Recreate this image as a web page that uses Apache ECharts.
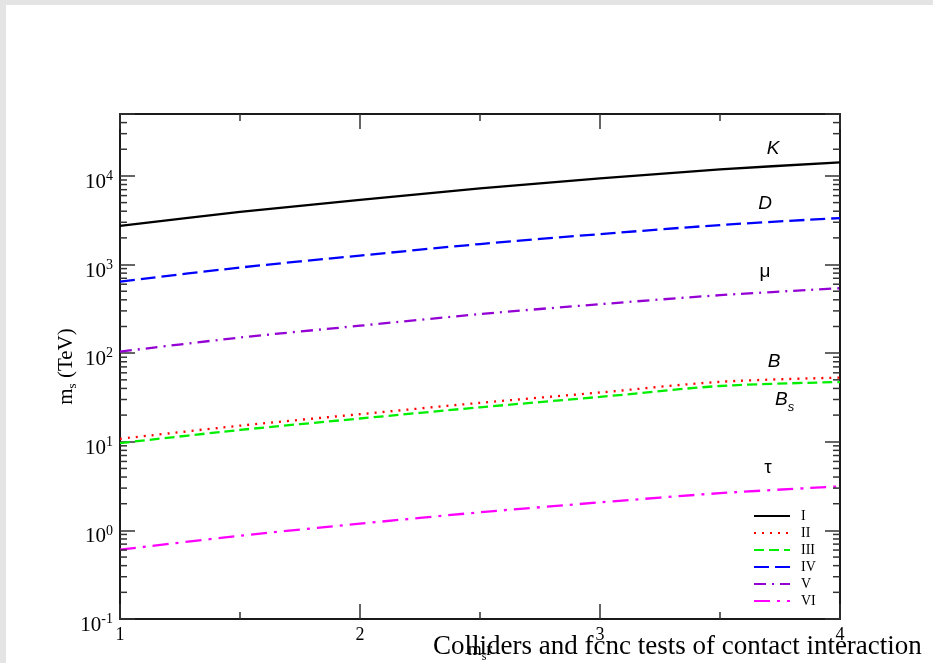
<!DOCTYPE html>
<html>
<head>
<meta charset="utf-8">
<script src="https://cdn.jsdelivr.net/npm/echarts@6/dist/echarts.min.js"></script>
<style>
  html, body { margin: 0; padding: 0; background: #ffffff; }
  #chart { width: 933px; height: 663px; }
</style>
</head>
<body>
<div id="chart"></div>
<script>
// ---- data ----
const xValues = [1, 1.5, 2, 2.5, 3, 3.5, 4];
const seriesNames = ['I', 'II', 'III', 'IV', 'V', 'VI'];
const valuesI   = [2730, 3926, 5362, 7235, 9364, 11848, 14200];   // K
const valuesII  = [10.8, 15.2, 20.5, 27.5, 36.0, 47.5, 53.0];     // B
const valuesIII = [9.65, 13.6, 18.3, 24.5, 32.1, 42.6, 47.2];     // B_s
const valuesIV  = [643, 925, 1263, 1704, 2205, 2791, 3350];        // D
const valuesV   = [104, 150, 204, 276, 357, 451, 541];             // mu
const valuesVI  = [0.605, 0.87, 1.19, 1.60, 2.07, 2.63, 3.14];     // tau

// curve annotations: [x, y, text]
const annotationX = [3.721, 3.6875, 3.6875, 3.725, 3.729, 3.70];
const annotationY = [20470, 4830, 837, 79.8, 29.4, 5.09];
const annotationText = ['K', 'D', 'μ', 'B', 'Bs', 'τ'];

const yMin = 0.1, yMax = 50000;
const xMin = 1, xMax = 4;
const minorMantissas = [2, 3, 4, 5, 6, 7, 8, 9];
const decades = [-1, 0, 1, 2, 3, 4];

const titleText = 'Colliders and fcnc tests of contact interaction';

// ---- build ----
const minorTickValues = [];
decades.forEach(d => minorMantissas.forEach(m => {
  const v = m * Math.pow(10, d);
  if (v < yMax) minorTickValues.push(v);
}));

const pair = vals => xValues.map((x, i) => [x, vals[i]]);
const colors = ['#000000', '#ff0000', '#00ee00', '#0000ff', '#9400d3', '#ff00ff'];
const dashes = ['solid', [2, 6], [10, 5], [15, 6], [12, 6, 2, 6], [16, 7, 3, 7]];
const allValues = [valuesI, valuesII, valuesIII, valuesIV, valuesV, valuesVI];

const serif = 'Liberation Serif, Times New Roman, serif';
const sans = 'Liberation Sans, Arial, sans-serif';

function yLabelFmt(v) {
  const e = Math.round(Math.log10(v));
  if (Math.abs(v - Math.pow(10, e)) / v > 1e-6) return '';
  return '{b|10}{s|' + e + '}';
}

const axisLineStyle = { color: '#1a1a1a', width: 2 };
const tickStyle = { color: '#333', width: 1.5 };

const lineSeries = seriesNames.map((n, i) => ({
  name: n,
  type: 'line',
  xAxisIndex: 0,
  yAxisIndex: 0,
  data: pair(allValues[i]),
  showSymbol: false,
  symbol: 'none',
  smooth: 0.3,
  lineStyle: { color: colors[i], width: 2.3, type: dashes[i] },
  itemStyle: { color: colors[i] },
  z: 3
}));

const minorTickSeries = {
  name: 'minorTicks',
  type: 'custom',
  xAxisIndex: 0,
  yAxisIndex: 0,
  data: minorTickValues.map(v => [xMin, v]),
  encode: { x: 0, y: 1 },
  silent: true,
  z: 4,
  renderItem: function (params, api) {
    const v = api.value(1);
    const pl = api.coord([xMin, v]);
    const pr = api.coord([xMax, v]);
    return {
      type: 'group',
      children: [
        { type: 'line', shape: { x1: pl[0], y1: pl[1], x2: pl[0] + 7, y2: pl[1] }, style: { stroke: '#333', lineWidth: 1.5 } },
        { type: 'line', shape: { x1: pr[0] - 7, y1: pr[1], x2: pr[0], y2: pr[1] }, style: { stroke: '#333', lineWidth: 1.5 } }
      ]
    };
  }
};

const annotationSeries = {
  name: 'annotations',
  type: 'custom',
  xAxisIndex: 0,
  yAxisIndex: 0,
  data: annotationX.map((x, i) => [x, annotationY[i], i]),
  encode: { x: 0, y: 1 },
  silent: true,
  z: 5,
  renderItem: function (params, api) {
    const p = api.coord([api.value(0), api.value(1)]);
    const idx = api.value(2);
    const t = annotationText[idx];
    if (t === 'Bs') {
      return {
        type: 'text',
        x: p[0], y: p[1],
        style: {
          text: '{b|B}{s|s}',
          align: 'left', verticalAlign: 'middle',
          rich: {
            b: { fontFamily: sans, fontStyle: 'italic', fontSize: 19, lineHeight: 20, fill: '#000', verticalAlign: 'top' },
            s: { fontFamily: sans, fontStyle: 'italic', fontSize: 13, lineHeight: 14, padding: [14, 0, 0, 0], fill: '#000' }
          }
        }
      };
    }
    const upright = (t === 'μ' || t === 'τ');
    return {
      type: 'text',
      x: p[0], y: p[1],
      style: {
        text: t,
        fontFamily: sans,
        fontStyle: upright ? 'normal' : 'italic',
        fontSize: 19,
        fill: '#000',
        align: 'center', verticalAlign: 'middle'
      }
    };
  }
};

const yAxisCommon = {
  type: 'log',
  logBase: 10,
  min: yMin,
  max: yMax,
  splitNumber: 6,
  axisLine: { show: true, onZero: false, lineStyle: axisLineStyle },
  axisTick: { show: true, inside: true, length: 15, lineStyle: tickStyle },
  splitLine: { show: false },
  minorTick: { show: false },
  minorSplitLine: { show: false }
};

const xAxisCommon = {
  type: 'value',
  min: xMin,
  max: xMax,
  interval: 1,
  axisLine: { show: true, onZero: false, lineStyle: axisLineStyle },
  axisTick: { show: true, inside: true, length: 15, lineStyle: tickStyle },
  minorTick: { show: true, splitNumber: 2, length: 7, lineStyle: tickStyle },
  splitLine: { show: false },
  minorSplitLine: { show: false }
};

const option = {
  animation: false,
  backgroundColor: '#ffffff',
  title: {
    text: titleText,
    left: 428,
    top: 628,
    padding: 5,
    textStyle: { fontFamily: serif, fontSize: 27, fontWeight: 'normal', color: '#000' },
    z: 10
  },
  graphic: [
    { type: 'rect', left: 0, top: 0, shape: { width: 933, height: 5 }, style: { fill: '#e4e4e4' }, silent: true },
    { type: 'rect', left: 0, top: 0, shape: { width: 6, height: 663 }, style: { fill: '#e4e4e4' }, silent: true }
  ],
  grid: { left: 120, right: 93, top: 114, bottom: 44, containLabel: false, outerBoundsMode: 'none' },
  legend: {
    data: seriesNames,
    orient: 'vertical',
    left: 753,
    top: 509,
    itemWidth: 36,
    itemHeight: 14,
    itemGap: 3,
    padding: 0,
    itemStyle: { opacity: 0 },
    textStyle: { fontFamily: serif, fontSize: 14, color: '#000', padding: [0, 0, 0, 6] }
  },
  xAxis: [
    Object.assign({}, xAxisCommon, {
      position: 'bottom',
      name: '{a|m}{b|s}{a|r}',
      nameLocation: 'middle',
      nameGap: 22,
      nameMoveOverlap: false,
      nameTextStyle: {
        rich: {
          a: { fontFamily: serif, fontSize: 18, lineHeight: 20, color: '#000', verticalAlign: 'top' },
          b: { fontFamily: serif, fontSize: 12, lineHeight: 12, padding: [11, 0, 0, 0], color: '#000' }
        }
      },
      axisLabel: { show: true, margin: 7, fontFamily: serif, fontSize: 18, color: '#000' }
    }),
    Object.assign({}, xAxisCommon, {
      position: 'top',
      axisLabel: { show: false }
    })
  ],
  yAxis: [
    Object.assign({}, yAxisCommon, {
      position: 'left',
      name: '{a|m}{b|s}{a| (TeV)}',
      nameLocation: 'middle',
      nameGap: 42,
      nameMoveOverlap: false,
      nameTextStyle: {
        rich: {
          a: { fontFamily: serif, fontSize: 21, lineHeight: 22, color: '#000', verticalAlign: 'top' },
          b: { fontFamily: serif, fontSize: 13, lineHeight: 13, padding: [12, 0, 0, 0], color: '#000' }
        }
      },
      axisLabel: {
        show: true,
        margin: 7,
        formatter: yLabelFmt,
        rich: {
          b: { fontFamily: serif, fontSize: 21, lineHeight: 21, padding: [13, 0, 0, 0], color: '#000' },
          s: { fontFamily: serif, fontSize: 14, lineHeight: 14, padding: [4, 0, 0, 0], verticalAlign: 'top', color: '#000' }
        }
      }
    }),
    Object.assign({}, yAxisCommon, {
      position: 'right',
      axisLabel: { show: false }
    })
  ],
  series: lineSeries.concat([minorTickSeries, annotationSeries])
};

const chart = echarts.init(document.getElementById('chart'), null, { renderer: 'canvas' });
chart.setOption(option);
</script>
</body>
</html>
